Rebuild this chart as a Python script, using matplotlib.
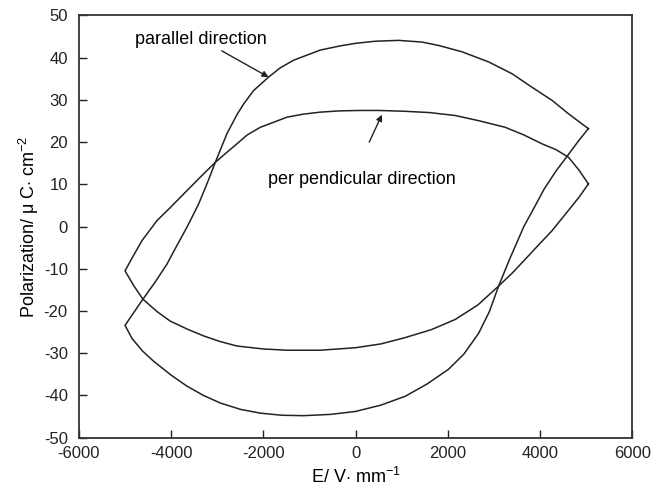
import matplotlib
matplotlib.use("Agg")
import matplotlib.pyplot as plt

plt.rcParams['font.family'] = ['Liberation Sans', 'DejaVu Sans']
plt.rcParams['mathtext.fontset'] = 'custom'
plt.rcParams['mathtext.rm'] = 'Liberation Sans'
plt.rcParams['mathtext.it'] = 'Liberation Sans:italic'
plt.rcParams['axes.unicode_minus'] = False

# Parallel direction loop: upper (descending field) then lower (ascending field)
par_up_E = [5050, 4911, 4620, 4260, 3826, 3393, 2885, 2308, 1800, 1440, 933, 427, 0,
            -332, -766, -1345, -1633, -1887, -2213, -2430, -2573, -2790, -3043, -3224,
            -3406, -3650, -3900, -4091, -4350, -4612, -4850, -5000]
par_up_P = [23.2, 24.3, 26.7, 29.9, 33.0, 36.2, 39.0, 41.4, 42.9, 43.7, 44.1, 43.9, 43.4,
            42.8, 41.8, 39.4, 37.6, 35.4, 32.2, 29.0, 26.5, 22.0, 15.2, 10.1,
            5.3, 0.0, -5.0, -8.9, -13.2, -17.2, -21.0, -23.4]
par_lo_E = [-5000, -4850, -4620, -4381, -4000, -3658, -3300, -2935, -2500, -2068, -1600,
            -1128, -550, 0, 550, 1078, 1550, 2017, 2350, 2668, 2900, 3102, 3350, 3650,
            3900, 4091, 4350, 4612, 4850, 5050]
par_lo_P = [-23.4, -26.5, -29.5, -31.9, -35.2, -37.8, -40.0, -41.8, -43.3, -44.2, -44.7,
            -44.8, -44.5, -43.8, -42.3, -40.2, -37.3, -33.8, -30.2, -25.3, -20.2, -14.1,
            -7.5, 0.0, 5.0, 8.9, 13.2, 17.0, 20.5, 23.2]

# Perpendicular direction loop
per_up_E = [5050, 4850, 4620, 4350, 4043, 3650, 3247, 2700, 2163, 1600, 1078, 500, 102,
            -350, -766, -1150, -1489, -2068, -2350, -2573, -2800, -3043, -3350, -3658,
            -4000, -4308, -4630, -4850, -5000]
per_up_P = [10.1, 13.3, 16.4, 18.2, 19.6, 21.7, 23.5, 25.0, 26.3, 27.0, 27.3, 27.5, 27.5,
            27.4, 27.1, 26.6, 25.9, 23.5, 21.7, 19.6, 17.5, 15.2, 11.9, 8.5,
            4.7, 1.4, -3.3, -7.5, -10.5]
per_lo_E = [-5000, -4800, -4612, -4300, -4020, -3650, -3297, -2950, -2573, -2000, -1488,
            -766, 0, 550, 1078, 1650, 2163, 2650, 3102, 3400, 3658, 4000, 4260, 4630,
            4850, 5050]
per_lo_P = [-10.5, -14.2, -17.2, -20.2, -22.4, -24.3, -25.9, -27.2, -28.3, -29.0, -29.3,
            -29.3, -28.7, -27.8, -26.3, -24.4, -22.0, -18.6, -14.1, -11.0, -8.0, -4.0,
            -1.0, 4.0, 7.0, 10.1]

x_ticks = [-6000, -4000, -2000, 0, 2000, 4000, 6000]
y_ticks = [-50, -40, -30, -20, -10, 0, 10, 20, 30, 40, 50]

fig = plt.figure(figsize=(6.69, 4.99), dpi=100)
ax = fig.add_axes([0.118, 0.123, 0.827, 0.846])

lc = '#222222'
ax.plot(par_up_E + par_lo_E, par_up_P + par_lo_P, color=lc, lw=1.1)
ax.plot(per_up_E + per_lo_E, per_up_P + per_lo_P, color=lc, lw=1.1)

ax.set_xlim(-6000, 6000)
ax.set_ylim(-50, 50)
ax.set_xticks(x_ticks)
ax.set_yticks(y_ticks)
ax.tick_params(direction='in', length=6, width=1.0, labelsize=12, colors='#222222')
ax.tick_params(axis='y', pad=8)
ax.tick_params(axis='x', pad=6)
for s in ax.spines.values():
    s.set_linewidth(1.3)
    s.set_color('#333333')

ax.set_xlabel(r'E/ V$\cdot$ mm$^{-1}$', fontsize=13, labelpad=4)
ax.set_ylabel(r'Polarization/ μ C$\cdot$ cm$^{-2}$', fontsize=13, labelpad=2)

ax.annotate('parallel direction', xy=(-1887, 35.4), xytext=(-4783, 44.3),
            fontsize=13, ha='left', va='center',
            arrowprops=dict(arrowstyle='-|>', color=lc, lw=1.0, mutation_scale=9,
                            shrinkA=0, shrinkB=0, relpos=(0.62, 0.0)))
ax.annotate('', xy=(572, 26.5), xytext=(296, 20.0),
            arrowprops=dict(arrowstyle='-|>', color=lc, lw=1.0, mutation_scale=9,
                            shrinkA=0, shrinkB=0))
ax.text(134, 11.1, 'per pendicular direction', fontsize=13, ha='center', va='center')

fig.savefig('out.png', dpi=100)
